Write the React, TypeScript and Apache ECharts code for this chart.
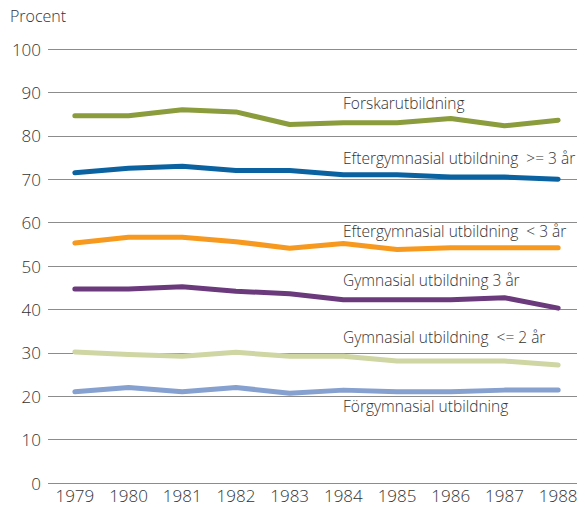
import React, { useEffect, useRef } from "react";
import * as echarts from "echarts";

const years = ["1979", "1980", "1981", "1982", "1983", "1984", "1985", "1986", "1987", "1988"];
const forskar = [84.6, 84.6, 86.0, 85.5, 82.6, 83.0, 83.0, 84.0, 82.3, 83.6];
const efterLong = [71.5, 72.5, 73.0, 72.0, 72.0, 71.0, 71.0, 70.5, 70.5, 70.0];
const efterShort = [55.3, 56.6, 56.6, 55.6, 54.1, 55.2, 53.8, 54.2, 54.2, 54.2];
const gymn3 = [44.7, 44.7, 45.2, 44.2, 43.6, 42.2, 42.2, 42.2, 42.7, 40.3];
const gymn2 = [30.2, 29.6, 29.2, 30.1, 29.2, 29.2, 28.1, 28.1, 28.1, 27.2];
const forgymn = [21.0, 22.0, 21.0, 22.0, 20.7, 21.4, 21.0, 21.0, 21.4, 21.4];

const seriesNames = [
  "Forskarutbildning",
  "Eftergymnasial utbildning  >= 3 år",
  "Eftergymnasial utbildning  < 3 år",
  "Gymnasial utbildning 3 år",
  "Gymnasial utbildning  <= 2 år",
  "Förgymnasial utbildning",
];
const seriesData = [forskar, efterLong, efterShort, gymn3, gymn2, forgymn];
const colors = ["#8a9c3c", "#0b62a0", "#f7991f", "#6b3a7d", "#cfd6a3", "#86a0cf"];
const labelTops = [95, 150, 223, 272, 329, 398];

const FONT = "'Open Sans', 'Noto Sans', sans-serif";

export default function App() {
  const ref = useRef<HTMLDivElement>(null);
  useEffect(() => {
    if (!ref.current) return;
    const chart = echarts.init(ref.current, null, { renderer: "svg" });
    chart.setOption({
      animation: false,
      grid: { left: 48, right: 0, top: 49, bottom: 24 },
      xAxis: {
        type: "category",
        data: years,
        boundaryGap: true,
        axisLine: { show: false },
        axisTick: { show: false },
        axisLabel: { color: "#333", fontSize: 17, fontWeight: 300, fontFamily: FONT, margin: 4 },
      },
      yAxis: {
        type: "value",
        min: 0,
        max: 100,
        interval: 10,
        axisLine: { show: false },
        axisTick: { show: false },
        axisLabel: { color: "#333", fontSize: 17, fontWeight: 300, fontFamily: FONT, margin: 7 },
        splitLine: { lineStyle: { color: "#8c8c8c", width: 1 } },
      },
      series: seriesData.map((d, i) => ({
        name: seriesNames[i],
        type: "line",
        data: d,
        symbol: "none",
        lineStyle: { color: colors[i], width: 5, cap: "round", join: "round" },
        itemStyle: { color: colors[i] },
      })),
      graphic: [
        {
          type: "text",
          left: 10,
          top: 8,
          style: { text: "Procent", fill: "#333", fontSize: 16, fontWeight: 300, fontFamily: FONT },
        },
        ...seriesNames.map((n, i) => ({
          type: "text",
          left: 343,
          top: labelTops[i],
          style: { text: n, fill: "#333", fontSize: 15.5, fontWeight: 300, fontFamily: FONT },
        })),
      ],
    });
    return () => chart.dispose();
  }, []);
  return <div ref={ref} style={{ width: 585, height: 507, marginLeft: -8, marginTop: -8 }} />;
}
